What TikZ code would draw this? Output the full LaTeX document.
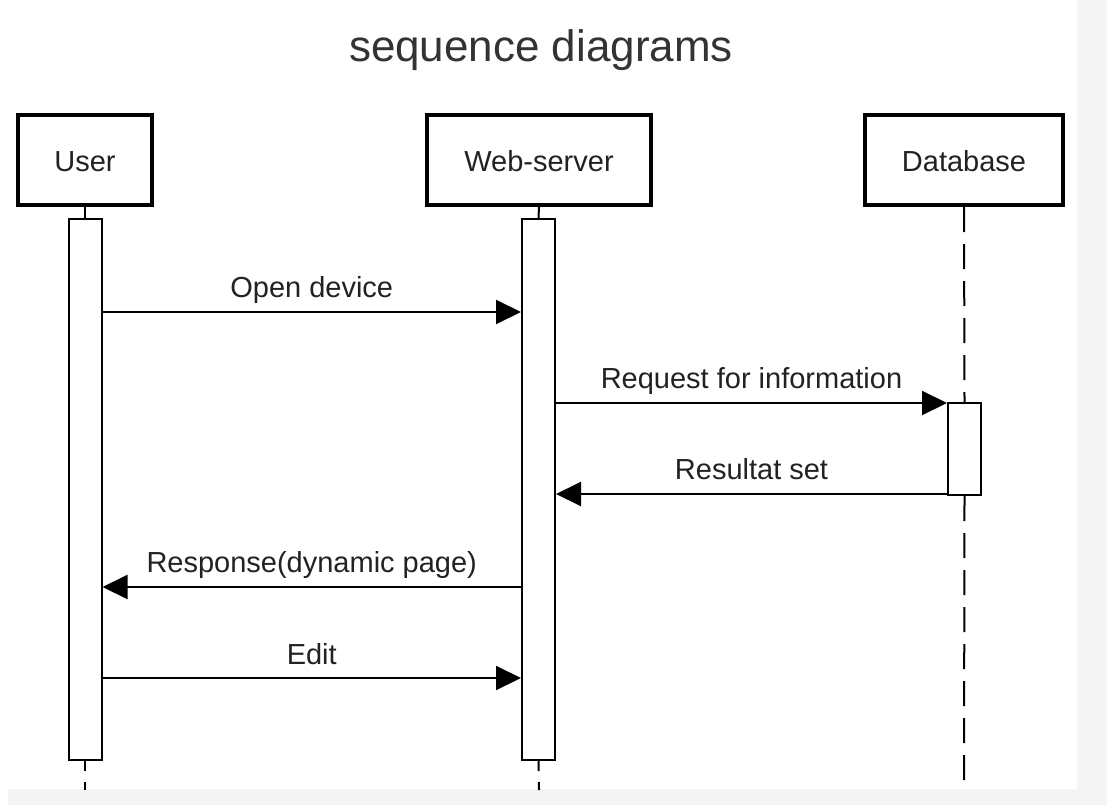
\documentclass[tikz,border=0pt]{standalone}
\usepackage{fontspec}
\setmainfont{Liberation Sans}
\usetikzlibrary{arrows.meta}
\definecolor{pagegrey}{HTML}{F4F4F4}
\definecolor{ink}{HTML}{222222}
\definecolor{titleink}{HTML}{333333}
\begin{document}
\begin{tikzpicture}[x=1pt,y=-1pt,
  actor/.style={draw=black, line width=4pt, fill=white, text=ink,
    font=\fontsize{29}{34}\selectfont, minimum height=90pt, inner sep=0pt,
    text height=23pt, text depth=0pt},
  actbar/.style={draw=black, line width=2pt, fill=white, minimum width=33pt, inner sep=0pt},
  lifeline/.style={draw=black, line width=2pt},
  dashedlife/.style={draw=black, line width=2pt, dash pattern=on 25pt off 12pt},
  stublife/.style={draw=black, line width=2pt, dash pattern=on 10pt off 11pt},
  msg/.style={draw=black, line width=2pt, -{Triangle[length=25pt,width=24pt]}},
  msglabel/.style={anchor=base, yshift=15pt, text=ink, font=\fontsize{29}{34}\selectfont, inner sep=0pt}]

  % page and surrounding grey margin
  \useasboundingbox (0,0) rectangle (1107,805);
  \fill[pagegrey] (0,0) rectangle (1107,805);
  \fill[white] (0,0) rectangle (1077,789);
  \fill[white] (0,789) rectangle (8,805);
  \fill[pagegrey] (1077,11) rectangle (1107,805);

  % title
  \node[anchor=base, text=titleink, font=\fontsize{44}{52}\selectfont, inner sep=0pt] (title) at (541,62) {sequence diagrams};

  % participants
  \node[actor, minimum width=134pt] (user) at (85,160) {User};
  \node[actor, minimum width=224pt] (web) at (539,160) {Web-server};
  \node[actor, minimum width=198pt] (db) at (964,160) {Database};

  % lifeline ends
  \coordinate (userend) at (85,790);
  \coordinate (webend) at (539,790);
  \coordinate (dbend) at (964,790);

  % activation bars
  \node[actbar, minimum height=541pt] (ua) at (85,489.5) {};
  \node[actbar, minimum height=541pt] (wa) at (538.5,489.5) {};
  \node[actbar, minimum height=92pt] (da) at (964.5,449) {};

  % lifelines
  \draw[lifeline] (user.south) -- (ua.north);
  \draw[lifeline] (web.south) -- (wa.north);
  \draw[dashedlife] (db.south) -- (da.north);
  \draw[dashedlife] (da.south) -- (dbend);
  \draw[stublife] (ua.south) -- (userend);
  \draw[stublife] (wa.south) -- (webend);

  % messages
  \draw[msg] (ua.east |- 0,312) -- node[msglabel] {Open device} (wa.west |- 0,312);
  \draw[msg] (wa.east |- 0,403) -- node[msglabel] {Request for information} (da.west |- 0,403);
  \draw[msg] (da.west |- 0,494) -- node[msglabel] {Resultat set} (wa.east |- 0,494);
  \draw[msg] (wa.west |- 0,587) -- node[msglabel] {Response(dynamic page)} (ua.east |- 0,587);
  \draw[msg] (ua.east |- 0,678) -- node[msglabel, yshift=-1pt] {Edit} (wa.west |- 0,678);
\end{tikzpicture}
\end{document}
